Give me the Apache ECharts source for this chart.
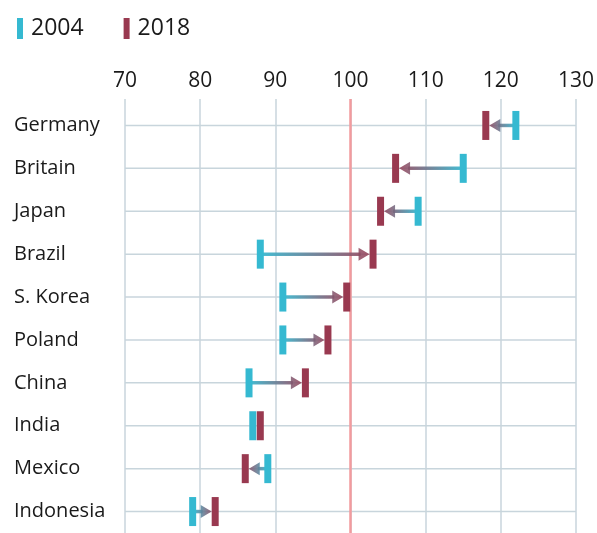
<!DOCTYPE html>
<html>
<head>
<meta charset="utf-8">
<script src="https://cdn.jsdelivr.net/npm/echarts@6/dist/echarts.min.js"></script>
<style>
  html, body { margin: 0; padding: 0; background: #fff; }
  #chart { width: 597px; height: 533px; }
</style>
</head>
<body>
<div id="chart"></div>
<script>
// data
const countries = ['Germany', 'Britain', 'Japan', 'Brazil', 'S. Korea', 'Poland', 'China', 'India', 'Mexico', 'Indonesia'];
const values2004 = [122, 115, 109, 88, 91, 91, 86.5, 87, 89, 79];
const values2018 = [118, 106, 104, 103, 99.5, 97, 94, 88, 86, 82];
const xTicks = [70, 80, 90, 100, 110, 120, 130];
const refValue = 100;

const cyan = '#35b9d1';
const maroon = '#993950';
const gridColor = '#c8d5dc';
const textColor = '#1a1a1a';
const font = 'Open Sans';

const rows = countries.map((c, i) => [i, values2004[i], values2018[i]]);

var myChart = echarts.init(document.getElementById('chart'));

// vertical marker for one year
function barRender(color) {
    return function (params, api) {
        const p = api.coord([api.value(1), api.value(0)]);
        const h = 29, w = 7;
        return {
            type: 'rect',
            shape: { x: p[0] - w / 2, y: p[1] - h / 2, width: w, height: h },
            style: { fill: color }
        };
    };
}

let option = {
    animation: false,
    textStyle: { fontFamily: font },
    legend: {
        left: 12,
        top: 12,
        icon: 'rect',
        itemWidth: 6,
        itemHeight: 21,
        itemGap: 40,
        textStyle: { fontSize: 23, color: textColor, fontFamily: font, padding: [0, 0, 0, 3] },
        data: ['2004', '2018']
    },
    grid: { left: 125, right: 16, top: 104, bottom: -6 },
    xAxis: {
        type: 'value',
        position: 'top',
        min: xTicks[0],
        max: xTicks[xTicks.length - 1],
        interval: 10,
        axisLine: { show: false },
        axisTick: { show: true, length: 5, lineStyle: { color: gridColor, width: 1.5 } },
        axisLabel: { fontSize: 21, color: textColor, margin: 12, fontFamily: font },
        splitLine: { show: true, lineStyle: { color: gridColor, width: 1.5 } }
    },
    yAxis: {
        type: 'category',
        data: countries,
        inverse: true,
        axisLine: { show: false },
        axisTick: { show: false },
        splitLine: { show: false },
        axisLabel: { align: 'left', margin: 111, fontSize: 20, color: textColor, fontFamily: font }
    },
    series: [
        {
            // horizontal row lines
            type: 'custom',
            silent: true,
            z: 1,
            data: rows,
            renderItem: function (params, api) {
                const a = api.coord([xTicks[0], api.value(0)]);
                const b = api.coord([xTicks[xTicks.length - 1], api.value(0)]);
                return {
                    type: 'line',
                    shape: { x1: a[0], y1: a[1], x2: b[0], y2: b[1] },
                    style: { stroke: gridColor, lineWidth: 1.5 }
                };
            }
        },
        {
            // reference line at 100
            type: 'custom',
            silent: true,
            z: 2,
            data: [[refValue]],
            renderItem: function (params, api) {
                const x = api.coord([api.value(0), 0])[0];
                const cs = params.coordSys;
                return {
                    type: 'line',
                    shape: { x1: x, y1: cs.y - 5, x2: x, y2: cs.y + cs.height },
                    style: { stroke: '#f29b9e', lineWidth: 2.5 }
                };
            }
        },
        {
            // arrows 2004 -> 2018
            type: 'custom',
            silent: true,
            z: 3,
            data: rows,
            renderItem: function (params, api) {
                const y = api.coord([0, api.value(0)])[1];
                const x1 = api.coord([api.value(1), 0])[0];
                const x2 = api.coord([api.value(2), 0])[0];
                const dir = x2 > x1 ? 1 : -1;
                const tip = x2 - dir * 3.5;
                const headLen = 11, headHalf = 6.5;
                if (Math.abs(tip - x1) < headLen + 1) return null;
                const base = tip - dir * headLen;
                const grad = new echarts.graphic.LinearGradient(x1, y, x2, y, [
                    { offset: 0, color: 'rgba(53,185,209,0.9)' },
                    { offset: 1, color: 'rgba(153,57,80,0.85)' }
                ], true);
                return {
                    type: 'group',
                    children: [
                        {
                            type: 'line',
                            shape: { x1: x1, y1: y, x2: base + dir * 2, y2: y },
                            style: { stroke: grad, lineWidth: 3.5 }
                        },
                        {
                            type: 'polygon',
                            shape: { points: [[base, y - headHalf], [tip, y], [base, y + headHalf]] },
                            style: { fill: grad }
                        }
                    ]
                };
            }
        },
        {
            name: '2004',
            type: 'custom',
            z: 4,
            itemStyle: { color: cyan },
            data: rows.map(r => [r[0], r[1]]),
            encode: { x: 1, y: 0 },
            renderItem: barRender(cyan)
        },
        {
            name: '2018',
            type: 'custom',
            z: 5,
            itemStyle: { color: maroon },
            data: rows.map(r => [r[0], r[2]]),
            encode: { x: 1, y: 0 },
            renderItem: barRender(maroon)
        }
    ]
};

myChart.setOption(option);
</script>
</body>
</html>
